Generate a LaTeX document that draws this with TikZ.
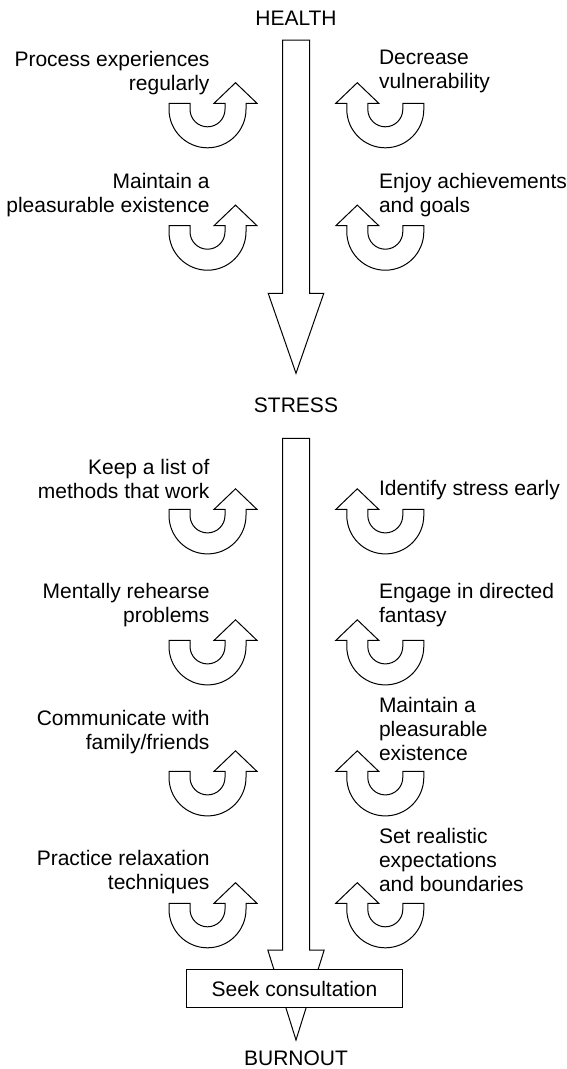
\documentclass[tikz,border=0pt]{standalone}
\usepackage{fontspec}
\setmainfont{Liberation Sans}
\begin{document}
\begin{tikzpicture}[x=1pt,y=-1pt,line width=1pt,line join=miter,
  lbl/.style={inner sep=0pt,font=\fontsize{21}{24}\selectfont},
  lft/.style={lbl,align=right,anchor=east},
  rgt/.style={lbl,align=left,anchor=west},
  bigarrow/.style={draw,fill=white},
  % U-turn arrow: origin at the centre of the U, level with the arm tops
  uarrow/.pic={
    \draw[fill=white] (-38.5,0) -- (-38.5,6) arc[start angle=180,end angle=0,radius=38.5]
      -- (38.5,0) -- (49.5,0) -- (28,-20.6) -- (6.5,0) -- (17.5,0) -- (17.5,6)
      arc[start angle=0,end angle=180,radius=17.5] -- (-17.5,0) -- cycle;
  }]
\useasboundingbox (0,0) rectangle (567,1069);

% main downward arrows
\draw[bigarrow] (282.7,40) -- (282.7,293.3) -- (268.2,293.3) -- (296,373.3)
  -- (323.8,293.3) -- (309.7,293.3) -- (309.7,40) -- cycle;
\draw[bigarrow] (282.7,438.3) -- (282.7,950) -- (267.8,950) -- (296,1040)
  -- (324.2,950) -- (309.7,950) -- (309.7,438.3) -- cycle;

\node[lbl] (health) at (296,18.5) {HEALTH};
\node[lbl] (stress) at (296,405) {STRESS};
\node[lbl] (burnout) at (296,1058.5) {BURNOUT};

\node[lbl,draw,fill=white,minimum width=215.6pt,minimum height=37.7pt] (seek)
  at (294.5,988.8) {Seek consultation};

% U-turn arrows, left column (head on the right)
\foreach \y in {103.3,225.7,509.4,640.4,771.4,903.3}
  \pic at (207.5,\y) {uarrow};
% U-turn arrows, right column (mirrored)
\foreach \y in {103.3,225.7,509.4,640.4,771.4,903.3}
  \pic[xscale=-1] at (385.3,\y) {uarrow};

% left labels
\node[lft] (l1) at (210,73) {Process experiences\\regularly};
\node[lft] (l2) at (210,195.5) {Maintain a\\pleasurable existence};
\node[lft] (l3) at (210,478.5) {Keep a list of\\methods that work};
\node[lft] (l4) at (210,605) {Mentally rehearse\\problems};
\node[lft] (l5) at (210,732.5) {Communicate with\\family/friends};
\node[lft] (l6) at (210,872) {Practice relaxation\\techniques};

% right labels
\node[rgt] (r1) at (378.5,71.5) {Decrease\\vulnerability};
\node[rgt] (r2) at (378.5,195.5) {Enjoy achievements\\and goals};
\node[rgt] (r3) at (378.5,490) {Identify stress early};
\node[rgt] (r4) at (378.5,605) {Engage in directed\\fantasy};
\node[rgt] (r5) at (378.5,729) {Maintain a\\pleasurable\\existence};
\node[rgt] (r6) at (378.5,860) {Set realistic\\expectations\\and boundaries};
\end{tikzpicture}
\end{document}
